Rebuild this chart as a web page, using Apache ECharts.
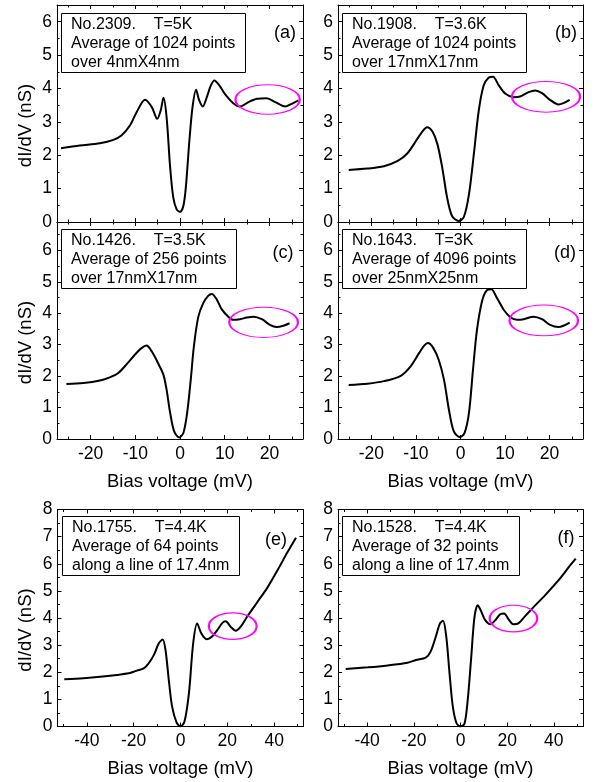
<!DOCTYPE html>
<html>
<head>
<meta charset="utf-8">
<script src="https://cdn.jsdelivr.net/npm/echarts@6/dist/echarts.min.js"></script>
<style>
html, body { margin: 0; padding: 0; background: #fff; }
#main { width: 600px; height: 782px; }
</style>
</head>
<body>
<div id="main"></div>
<script>
// bias (mV) and dI/dV (nS)
var biasA = [-26.6,-22.4,-17.9,-14.9,-13.1,-11.2,-9.7,-7.8,-6.3,-5.1,-4.3,-3.7,-3.0,-2.2,-1.5,-0.75,0,0.75,1.3,2.1,2.8,3.6,4.3,5.1,6.0,6.9,7.7,8.8,10.1,11.9,13.4,15.3,17.2,19.4,21.3,23.5,25.0,26.5];
var dIdVA = [2.21,2.29,2.36,2.46,2.59,2.89,3.29,3.66,3.44,3.09,3.35,3.72,3.14,1.63,0.73,0.38,0.30,0.48,1.03,2.44,3.44,3.96,3.64,3.46,3.74,4.09,4.24,4.09,3.82,3.56,3.46,3.59,3.69,3.71,3.59,3.46,3.54,3.64];

var biasB = [-25.1,-20.9,-17.2,-14.2,-11.9,-9.7,-8.4,-7.5,-6.3,-5.2,-4.1,-3.0,-1.9,-0.4,0.75,1.9,3.0,4.1,5.2,6.3,7.3,8.6,10.1,11.9,13.4,15.3,16.8,18.3,20.1,22.0,23.1,24.5];
var dIdVB = [1.56,1.60,1.67,1.82,2.06,2.49,2.74,2.84,2.71,2.34,1.63,0.73,0.18,0.03,0.15,0.83,2.04,3.34,4.09,4.32,4.35,4.09,3.84,3.74,3.76,3.89,3.94,3.86,3.66,3.52,3.56,3.66];

var biasC = [-25.4,-21.6,-17.9,-15.7,-13.8,-11.9,-10.1,-8.6,-7.5,-6.3,-4.9,-3.7,-3.0,-2.2,-1.3,-0.2,0.75,1.6,2.4,3.1,4.1,5.2,6.3,7.1,8.2,9.3,10.8,11.9,13.4,14.9,16.4,18.3,20.1,21.6,23.1,24.5];
var dIdVC = [1.75,1.78,1.86,1.96,2.10,2.38,2.68,2.89,2.97,2.78,2.41,2.04,1.57,0.83,0.24,0.05,0.19,0.83,1.88,2.94,3.89,4.32,4.55,4.61,4.44,4.13,3.89,3.79,3.81,3.86,3.89,3.81,3.63,3.56,3.60,3.68];

var biasD = [-25.1,-20.9,-17.2,-13.4,-11.2,-9.3,-8.2,-7.3,-6.1,-4.9,-3.7,-2.6,-1.5,-0.15,0.9,1.9,2.8,3.7,4.9,6.0,6.9,8.2,9.7,11.2,12.7,14.2,16.4,18.3,20.1,22.0,23.1,24.5];
var dIdVD = [1.72,1.76,1.84,2.01,2.31,2.73,2.96,3.05,2.89,2.52,1.88,0.93,0.24,0.06,0.19,0.83,2.20,3.47,4.42,4.74,4.76,4.48,4.11,3.87,3.79,3.81,3.89,3.81,3.63,3.56,3.60,3.70];

var biasE = [-49.6,-41.4,-34.3,-27.1,-22.1,-20,-18.6,-15.7,-13.6,-11.4,-9.3,-7.6,-6.4,-5.0,-3.6,-1.7,0,1.7,3.6,5.4,7.1,8.9,11.1,13.6,15.7,17.9,19.3,21.4,23.6,25.7,28.6,32.9,37.1,41.4,45.7,49.3];
var dIdVE = [1.74,1.78,1.83,1.90,1.96,2.02,2.06,2.14,2.33,2.63,3.06,3.21,2.82,1.72,0.74,0.15,0,0.18,1.23,3.06,3.80,3.43,3.22,3.33,3.55,3.82,3.88,3.68,3.53,3.68,4.07,4.60,5.12,5.76,6.43,6.96];

var biasF = [-49.2,-39.7,-31.2,-22.7,-19.1,-14.9,-12.8,-10.6,-8.8,-7.5,-6.1,-4.7,-3.3,-1.7,0,1.7,3.1,4.5,6.0,7.4,8.8,10.6,12.8,14.9,17.0,18.7,20.6,22.7,24.8,27.7,31.2,36.9,42.6,46.8,49.4];
var dIdVF = [2.12,2.18,2.25,2.35,2.45,2.54,2.76,3.31,3.80,3.90,3.31,1.96,0.74,0.12,0,0.10,0.98,2.45,4.04,4.47,4.26,3.92,3.77,3.92,4.14,4.17,3.95,3.77,3.80,4.07,4.39,4.90,5.45,5.92,6.19];

// magenta ellipses: centre bias, centre dI/dV, half width (mV), half height (nS)
var ellA = [19.6, 3.67, 7.2, 0.44];
var ellB = [19.2, 3.75, 7.65, 0.46];
var ellC = [18.7, 3.71, 7.7, 0.48];
var ellD = [18.7, 3.77, 7.7, 0.49];
var ellE = [22.3, 3.70, 10.2, 0.49];
var ellF = [22.7, 3.98, 10.2, 0.49];

var noteA = ['No.2309.    T=5K', 'Average of 1024 points', 'over 4nmX4nm'];
var noteB = ['No.1908.    T=3.6K', 'Average of 1024 points', 'over 17nmX17nm'];
var noteC = ['No.1426.    T=3.5K', 'Average of 256 points', 'over 17nmX17nm'];
var noteD = ['No.1643.    T=3K', 'Average of 4096 points', 'over 25nmX25nm'];
var noteE = ['No.1755.    T=4.4K', 'Average of 64 points', 'along a line of 17.4nm'];
var noteF = ['No.1528.    T=4.4K', 'Average of 32 points', 'along a line of 17.4nm'];

// tick values
var xMajorNarrow = [-20, -10, 0, 10, 20];
var xMinorNarrow = [-25, -15, -5, 5, 15, 25];
var xMajorWide = [-40, -20, 0, 20, 40];
var xMinorWide = [-50, -30, -10, 10, 30, 50];
var yMajor6 = [0, 1, 2, 3, 4, 5, 6];
var yMinor6 = [0.5, 1.5, 2.5, 3.5, 4.5, 5.5, 6.5];
var yMajor8 = [0, 1, 2, 3, 4, 5, 6, 7, 8];
var yMinor8 = [0.5, 1.5, 2.5, 3.5, 4.5, 5.5, 6.5, 7.5];

var FONT = "'Liberation Sans', Arial, sans-serif";

var panels = [
    {x: biasA, y: dIdVA, ell: ellA, note: noteA, tag: '(a)', box: [57, 5, 246], xr: 27.5, ymax: 6.5,
     xt: [xMajorNarrow, xMinorNarrow], yt: [yMajor6, yMinor6], xLab: false, yName: true, tagAt: [285, 33], noteAt: [61, 13]},
    {x: biasB, y: dIdVB, ell: ellB, note: noteB, tag: '(b)', box: [338, 5, 245], xr: 27.5, ymax: 6.5,
     xt: [xMajorNarrow, xMinorNarrow], yt: [yMajor6, yMinor6], xLab: false, yName: false, tagAt: [566, 33], noteAt: [342, 13]},
    {x: biasC, y: dIdVC, ell: ellC, note: noteC, tag: '(c)', box: [57, 222, 246], xr: 27.5, ymax: 6.9,
     xt: [xMajorNarrow, xMinorNarrow], yt: [yMajor6, yMinor6], xLab: true, yName: true, tagAt: [283, 253], noteAt: [61, 229]},
    {x: biasD, y: dIdVD, ell: ellD, note: noteD, tag: '(d)', box: [338, 222, 245], xr: 27.5, ymax: 6.9,
     xt: [xMajorNarrow, xMinorNarrow], yt: [yMajor6, yMinor6], xLab: true, yName: false, tagAt: [565, 253], noteAt: [342, 229]},
    {x: biasE, y: dIdVE, ell: ellE, note: noteE, tag: '(e)', box: [57.5, 509.5, 246], xr: 52.5, ymax: 8,
     xt: [xMajorWide, xMinorWide], yt: [yMajor8, yMinor8], xLab: true, yName: true, tagAt: [276, 540], noteAt: [62, 516]},
    {x: biasF, y: dIdVF, ell: ellF, note: noteF, tag: '(f)', box: [338, 509.5, 245], xr: 52.5, ymax: 8,
     xt: [xMajorWide, xMinorWide], yt: [yMajor8, yMinor8], xLab: true, yName: false, tagAt: [566, 538], noteAt: [342, 516]}
];

function renderEllipse(params, api) {
    var c = api.coord([api.value(0), api.value(1)]);
    var s = api.size([api.value(2), api.value(3)]);
    return {
        type: 'circle',
        x: c[0], y: c[1],
        scaleY: s[1] / s[0],
        shape: {cx: 0, cy: 0, r: s[0]},
        style: {fill: 'none', stroke: '#ff00ff', lineWidth: 2.2, strokeNoScale: true}
    };
}

var grids = [], xAxes = [], yAxes = [], series = [], titles = [], graphics = [];

panels.forEach(function (p, i) {
    grids.push({left: p.box[0], top: p.box[1], width: p.box[2], height: 217, outerBoundsMode: 'none'});

    ['bottom', 'top'].forEach(function (pos) {
        [0, 1].forEach(function (k) {   // 0 = major ticks + line, 1 = minor ticks
            var main = pos === 'bottom' && k === 0;
            xAxes.push({
                type: 'value', gridIndex: i, position: pos, min: -p.xr, max: p.xr,
                axisLine: {show: k === 0, onZero: false, lineStyle: {color: '#000', width: 1}},
                axisTick: {show: true, inside: true, length: k === 0 ? 4 : 2.5, customValues: p.xt[k], lineStyle: {color: '#000'}},
                axisLabel: {show: main && p.xLab, customValues: p.xt[0], color: '#000', fontSize: 17.5, fontFamily: FONT, margin: 6},
                splitLine: {show: false},
                name: (main && p.xLab) ? 'Bias voltage (mV)' : '',
                nameLocation: 'middle', nameGap: 33,
                nameTextStyle: {color: '#000', fontSize: 18.5, fontFamily: FONT}
            });
        });
    });

    ['left', 'right'].forEach(function (pos) {
        [0, 1].forEach(function (k) {
            var main = pos === 'left' && k === 0;
            yAxes.push({
                type: 'value', gridIndex: i, position: pos, min: 0, max: p.ymax,
                axisLine: {show: k === 0, onZero: false, lineStyle: {color: '#000', width: 1}},
                axisTick: {show: true, inside: true, length: k === 0 ? 4 : 2.5, customValues: p.yt[k], lineStyle: {color: '#000'}},
                axisLabel: {show: main, customValues: p.yt[0], color: '#000', fontSize: 17.5, fontFamily: FONT, margin: 5},
                splitLine: {show: false},
                name: (main && p.yName) ? 'dI/dV (nS)' : '',
                nameLocation: 'middle', nameGap: 22,
                nameTextStyle: {color: '#000', fontSize: 18.5, fontFamily: FONT, padding: [0, 24, 0, 0]}
            });
        });
    });

    var pts = p.x.map(function (v, j) { return [v, p.y[j]]; });
    series.push({
        type: 'line', xAxisIndex: 4 * i, yAxisIndex: 4 * i,
        data: pts, showSymbol: false, smooth: 0.3,
        lineStyle: {color: '#000', width: 2}, itemStyle: {color: '#000'},
        silent: true
    });
    series.push({
        type: 'custom', xAxisIndex: 4 * i, yAxisIndex: 4 * i,
        data: [p.ell], encode: {x: 0, y: 1},
        renderItem: renderEllipse, silent: true, z: 5
    });

    titles.push({
        text: p.note.join('\n'),
        left: p.noteAt[0], top: p.noteAt[1],
        padding: [2, 10, 1, 10],
        borderWidth: 1, borderColor: '#000', backgroundColor: '#fff',
        textStyle: {color: '#000', fontSize: 16, fontWeight: 'normal', fontFamily: FONT, lineHeight: 19}
    });

    graphics.push({
        type: 'text', x: p.tagAt[0], y: p.tagAt[1],
        style: {text: p.tag, fill: '#000', fontSize: 18, fontFamily: FONT, align: 'center', verticalAlign: 'middle'}
    });
});

var myChart = echarts.init(document.getElementById('main'));
myChart.setOption({
    backgroundColor: '#fff',
    animation: false,
    title: titles,
    grid: grids,
    xAxis: xAxes,
    yAxis: yAxes,
    series: series,
    graphic: graphics
});
</script>
</body>
</html>
